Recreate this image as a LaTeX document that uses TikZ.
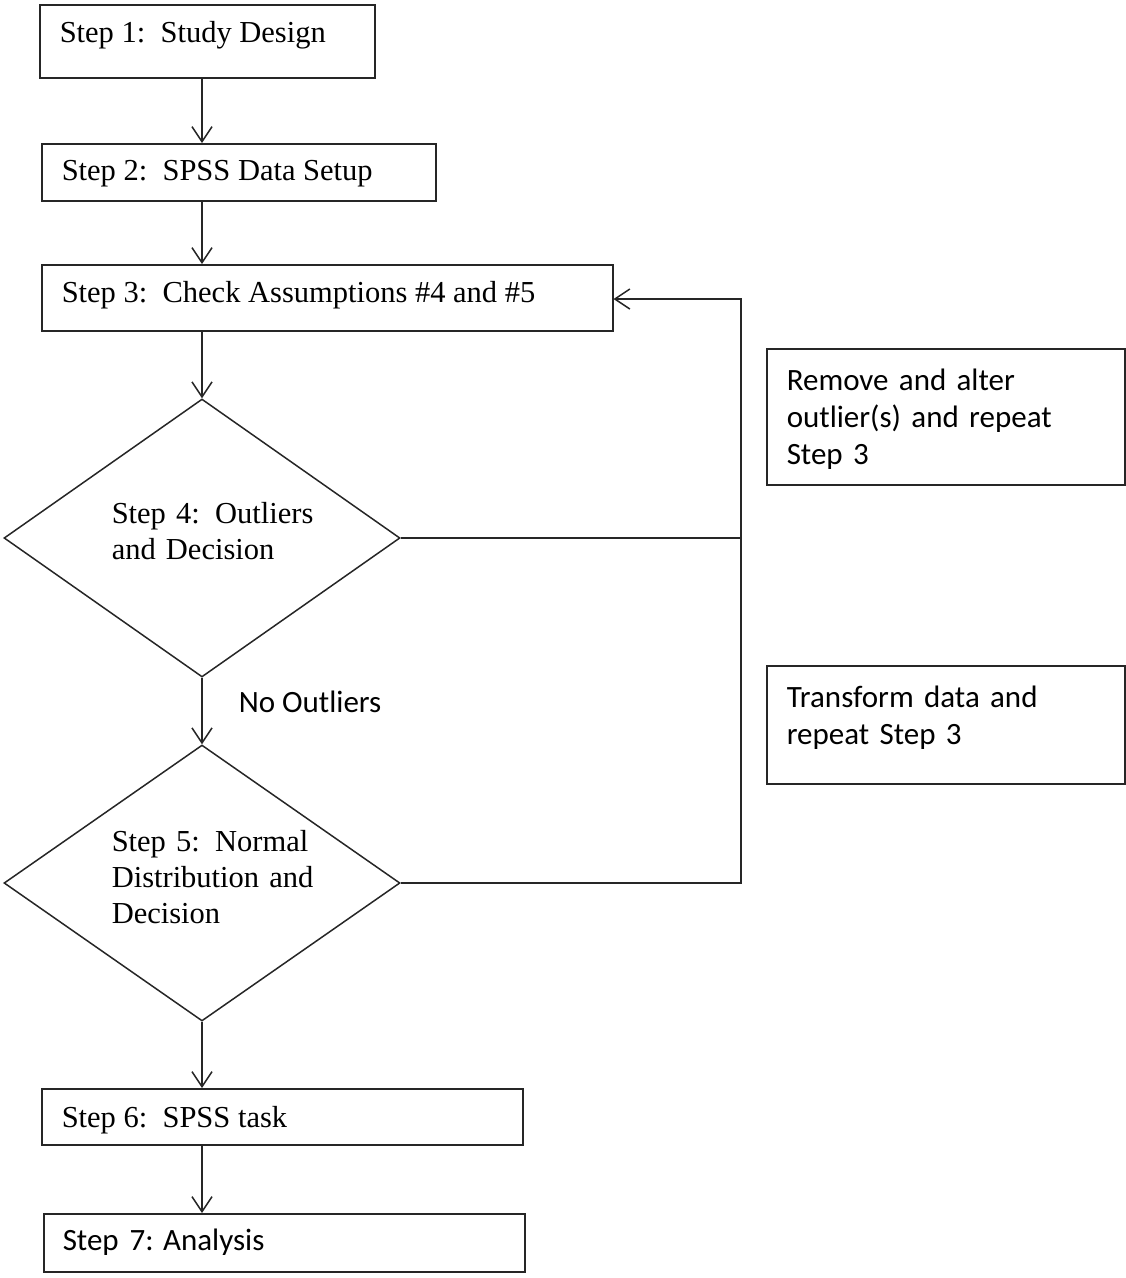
\documentclass[tikz,border=0pt]{standalone}
\usepackage{fontspec}
\setmainfont{Liberation Serif}
\newfontfamily\calib{Carlito}
\usetikzlibrary{shapes.geometric,arrows.meta}
\begin{document}
\begin{tikzpicture}[x=1pt,y=-1pt,
  line width=1.5pt, draw=black!85,
  box/.style={draw=black!85, rectangle, inner sep=0pt, anchor=north west},
  dia/.style={draw=black!85, diamond, inner sep=0pt},
  tms/.style={font=\fontsize{30.5}{36}\selectfont, anchor=base west, inner sep=0pt, align=left},
  cal/.style={font=\calib\fontsize{31}{37}\selectfont, anchor=base west, inner sep=0pt, align=left},
  arr/.style={-{Straight Barb[length=15pt,width=20pt,line width=1.5pt]}}]
\useasboundingbox (0,0) rectangle (1126,1278);
% boxes
\node[box, minimum width=335pt, minimum height=73pt] (b1) at (39,4) {};
\node[box, minimum width=394pt, minimum height=57pt] (b2) at (41,143) {};
\node[box, minimum width=571pt, minimum height=66pt] (b3) at (41,264) {};
\node[dia, minimum width=396pt, minimum height=278pt] (d1) at (202,538) {};
\node[dia, minimum width=396pt, minimum height=276pt] (d2) at (202,883) {};
\node[box, minimum width=481pt, minimum height=56pt] (b6) at (41,1088) {};
\node[box, minimum width=481pt, minimum height=58pt] (b7) at (43,1213) {};
\node[box, minimum width=358pt, minimum height=136pt] (r1) at (766,348) {};
\node[box, minimum width=358pt, minimum height=118pt] (r2) at (766,665) {};
% texts
\node[tms] (t1) at (59,42) {Step 1:\ \ Study Design};
\node[tms] (t2) at (61,180) {Step 2:\ \ SPSS Data Setup};
\node[tms] (t3) at (61,302) {Step 3:\ \ Check Assumptions \#4 and \#5};
\node[tms, text width=230pt] (t4) at (111,523) {Step 4: Outliers\\and Decision};
\node[tms, text width=230pt] (t5) at (111,851) {Step 5: Normal\\Distribution and\\Decision};
\node[tms] (t6) at (61,1127) {Step 6:\ \ SPSS task};
\node[cal] (t7) at (62,1250) {Step\hspace{11pt}7: Analysis};
\node[cal] (no) at (238,712) {No Outliers};
\node[cal, text width=330pt] (tr1) at (786,390) {Remove and alter\\outlier(s) and repeat\\Step 3};
\node[cal, text width=330pt] (tr2) at (786,707) {Transform data and\\repeat Step 3};
% connectors
\draw[arr] (b1.south -| d1.north) -- (b2.north -| d1.north);
\draw[arr] (b2.south -| d1.north) -- (b3.north -| d1.north);
\draw[arr] (b3.south -| d1.north) -- (d1.north);
\draw[arr] (d1.south) -- (d2.north);
\draw[arr] (d2.south) -- (b6.north -| d2.south);
\draw[arr] (b6.south -| d2.south) -- (b7.north -| d2.south);
\coordinate (loop) at (741,299);
\draw (d1.east) -- (d1.east -| loop);
\draw[arr] (d2.east) -| (loop) -- (loop -| b3.east);
\end{tikzpicture}
\end{document}
